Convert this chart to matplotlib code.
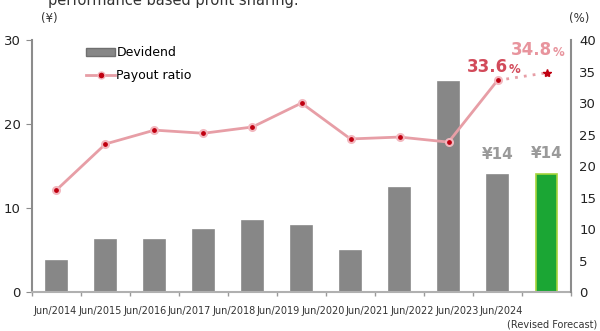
import numpy as np
import matplotlib
matplotlib.use("Agg")
import matplotlib.pyplot as plt
from matplotlib.lines import Line2D
from matplotlib.patches import Patch

years = ["Jun/2014", "Jun/2015", "Jun/2016", "Jun/2017", "Jun/2018", "Jun/2019",
         "Jun/2020", "Jun/2021", "Jun/2022", "Jun/2023", "Jun/2024"]
dividend = [3.7, 6.2, 6.2, 7.4, 8.4, 7.9, 4.9, 12.4, 25.0, 13.9, 14.0]
payout = [16.2, 23.5, 25.7, 25.2, 26.2, 30.0, 24.3, 24.6, 23.8, 33.6, 34.8]
forecast_idx = 10

plt.rcParams['font.family'] = ['DejaVu Sans']

fig = plt.figure(figsize=(6, 3.31), dpi=100)
ax = fig.add_axes([0.0533, 0.1178, 0.8984, 0.7612])
ax2 = ax.twinx()

x = np.arange(len(dividend))
cols = ['#878787'] * len(dividend)
cols[forecast_idx] = '#1ba634'
edges = ['#878787'] * len(dividend)
edges[forecast_idx] = '#a6d43c'
ax.bar(x, dividend, width=0.42, color=cols, edgecolor=edges, linewidth=1.2, zorder=2)

line_c = '#e79ea6'
ax2.plot(x[:forecast_idx], payout[:forecast_idx], color=line_c, lw=2, zorder=3)
ax2.plot(x[forecast_idx - 1:], payout[forecast_idx - 1:], color=line_c, lw=2,
         ls=(0, (1, 2.2)), zorder=3)
ax2.plot(x[:forecast_idx], payout[:forecast_idx], ls='none', marker='o', ms=5,
         mfc='#c00010', mec='#f2b8bf', mew=1.5, zorder=4)
ax2.plot(x[forecast_idx], payout[forecast_idx], ls='none', marker='*', ms=6,
         color='#c00010', zorder=4)

ax.set_xlim(-0.5, len(dividend) - 0.5)
ax.set_ylim(0, 30)
ax2.set_ylim(0, 40)
ax.set_yticks([0, 10, 20, 30])
ax2.set_yticks(range(0, 41, 5))

ax.set_xticks(np.arange(len(dividend) + 1) - 0.5)
ax.set_xticklabels([])
ax.set_xticks(np.arange(len(years)) * 0.91 - 0.02, minor=True)
ax.set_xticklabels(years, minor=True, fontsize=7, color='#333333')
ax.tick_params(axis='x', which='major', length=3, color='#999999', width=1)
ax.tick_params(axis='x', which='minor', length=0, pad=10)

for a in (ax, ax2):
    for s in a.spines.values():
        s.set_visible(False)
ax.spines['left'].set_visible(True)
ax.spines['left'].set_color('#8c8c8c')
ax.spines['left'].set_linewidth(1.5)
ax.spines['bottom'].set_visible(True)
ax.spines['bottom'].set_color('#b0b0b0')
ax.spines['bottom'].set_linewidth(1.5)
ax2.spines['right'].set_visible(True)
ax2.spines['right'].set_color('#8c8c8c')
ax2.spines['right'].set_linewidth(1.5)
ax.tick_params(axis='y', length=4, color='#8c8c8c', labelsize=9.5, pad=4,
               labelcolor='#222222')
ax2.tick_params(axis='y', length=0, labelsize=9.5, pad=6, labelcolor='#222222')

fig.text(0.083, 0.935, '(¥)', fontsize=8.5, color='#333333', ha='center')
fig.text(0.965, 0.935, '(%)', fontsize=8.5, color='#333333', ha='center')
fig.text(0.995, 0.01, '(Revised Forecast)', fontsize=7, color='#333333', ha='right')
fig.text(0.08, 1.0, 'performance based profit sharing.', fontsize=10.5,
         color='#333333', ha='left', va='center')

# value labels
for i in (forecast_idx - 1, forecast_idx):
    ax.text(x[i], dividend[i] + 1.6, '¥' + str(int(round(dividend[i]))),
            ha='center', va='bottom', fontsize=11, fontweight='bold', color='#9a9a9a')


def pct_label(i, dx, dy, color):
    t = ax2.annotate(f"{payout[i]}", (x[i], payout[i]), xytext=(dx, dy),
                     textcoords='offset points', ha='center', va='baseline',
                     fontsize=12, fontweight='bold', color=color)
    ax2.annotate('%', xy=(1, 0), xycoords=t, xytext=(0.5, 0),
                 textcoords='offset points', ha='left', va='bottom',
                 fontsize=8.5, fontweight='bold', color=color)


pct_label(forecast_idx - 1, -7, 6, '#d24a5a')
pct_label(forecast_idx, -11, 13, '#e8949d')

handles = [Patch(facecolor='#878787', edgecolor='#6f6f6f'),
           Line2D([], [], color=line_c, lw=2, marker='o', ms=5, mfc='#c00010', mec='#f2b8bf')]
leg = ax.legend(handles, ['Devidend', 'Payout ratio'], loc='upper left',
                bbox_to_anchor=(0.08, 1.02), frameon=False, fontsize=9,
                handlelength=2.3, handletextpad=0.1, labelspacing=0.8)
ax2.patch.set_visible(False)

fig.savefig('out.png', dpi=100)
